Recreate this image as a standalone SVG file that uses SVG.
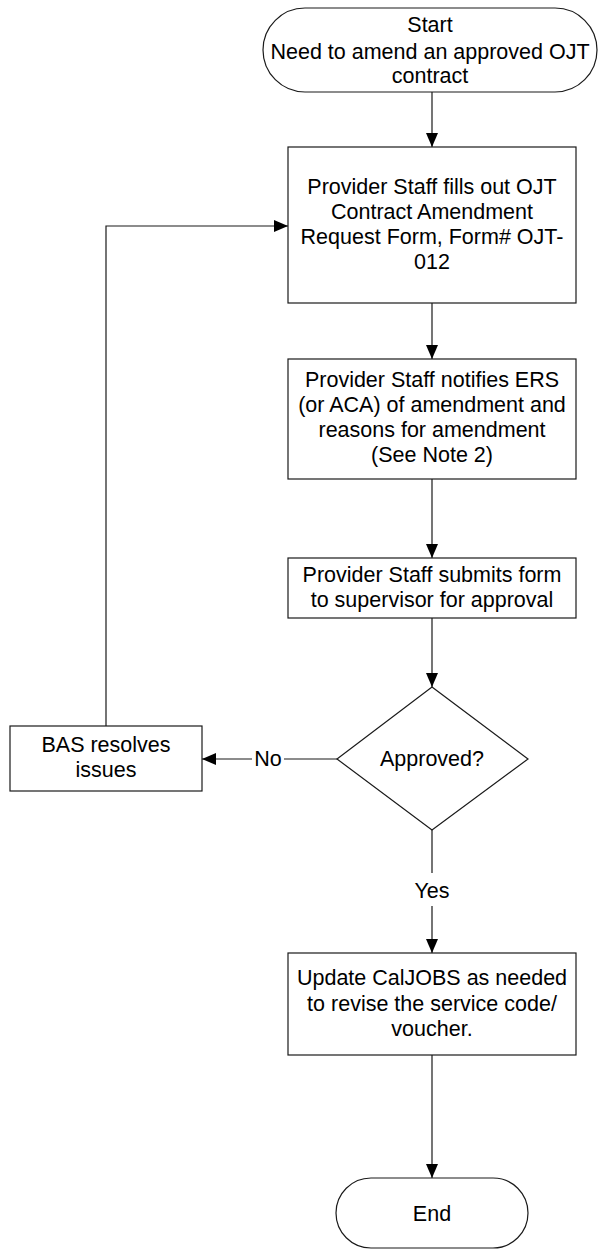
<svg xmlns="http://www.w3.org/2000/svg" width="598" height="1249" viewBox="0 0 598 1249">
<style>
.shape{fill:#fff;stroke:#1a1a1a;stroke-width:1.2}
.conn{fill:none;stroke:#1a1a1a;stroke-width:1.2}
text{font-family:"Liberation Sans",Arial,sans-serif;font-size:21.5px;fill:#000;text-anchor:middle}
</style>
<defs>
<marker id="arr" markerUnits="userSpaceOnUse" markerWidth="16" markerHeight="14" refX="14" refY="6" orient="auto">
<path d="M0,0 L14,6 L0,12 Z" fill="#000"/>
</marker>
</defs>
<rect width="598" height="1249" fill="#fff"/>
<g id="connectors">
<path class="conn" d="M432,92 V147" marker-end="url(#arr)"/>
<path class="conn" d="M432,303 V359" marker-end="url(#arr)"/>
<path class="conn" d="M432,479 V558" marker-end="url(#arr)"/>
<path class="conn" d="M432,618 V687" marker-end="url(#arr)"/>
<path class="conn" d="M337,759 H284 M252,759 H202" marker-end="url(#arr)"/>
<path class="conn" d="M106,726 V226 H288" marker-end="url(#arr)"/>
<path class="conn" d="M432,830 V873 M432,906 V953" marker-end="url(#arr)"/>
<path class="conn" d="M432,1055 V1178" marker-end="url(#arr)"/>
<text x="268" y="766">No</text>
<text x="432" y="898">Yes</text>
</g>
<g id="start">
<rect class="shape" x="263" y="8" width="334" height="84" rx="42" ry="42"/>
<text x="430" y="32">Start</text>
<text x="430" y="59">Need to amend an approved OJT</text>
<text x="430" y="83">contract</text>
</g>
<g id="fill-form">
<rect class="shape" x="288" y="147" width="288" height="156"/>
<text x="432" y="194">Provider Staff fills out OJT</text>
<text x="432" y="219">Contract Amendment</text>
<text x="432" y="244">Request Form, Form# OJT-</text>
<text x="432" y="269">012</text>
</g>
<g id="notify">
<rect class="shape" x="288" y="359" width="288" height="120"/>
<text x="432" y="387">Provider Staff notifies ERS</text>
<text x="432" y="412">(or ACA) of amendment and</text>
<text x="432" y="437">reasons for amendment</text>
<text x="432" y="462">(See Note 2)</text>
</g>
<g id="submit">
<rect class="shape" x="288" y="558" width="288" height="60"/>
<text x="432" y="582">Provider Staff submits form</text>
<text x="432" y="607">to supervisor for approval</text>
</g>
<g id="approved">
<path class="shape" d="M432,687 L528,759 L432,830 L337,759 Z"/>
<text x="432" y="766">Approved?</text>
</g>
<g id="bas">
<rect class="shape" x="10" y="726" width="192" height="65"/>
<text x="106" y="752">BAS resolves</text>
<text x="106" y="777">issues</text>
</g>
<g id="update">
<rect class="shape" x="288" y="953" width="288" height="102"/>
<text x="432" y="985">Update CalJOBS as needed</text>
<text x="432" y="1011">to revise the service code/</text>
<text x="432" y="1036">voucher.</text>
</g>
<g id="end">
<rect class="shape" x="336" y="1178" width="192" height="70" rx="35" ry="35"/>
<text x="432" y="1221">End</text>
</g>
</svg>
